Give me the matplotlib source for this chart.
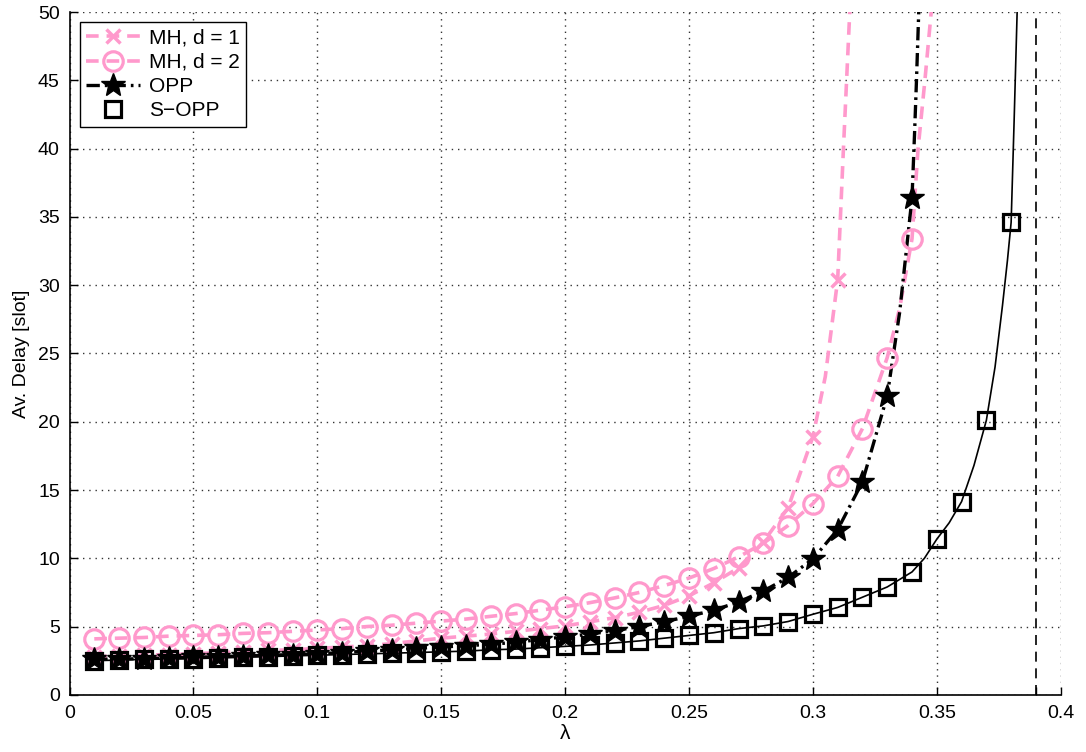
import numpy as np
import matplotlib
matplotlib.use('Agg')
import matplotlib.pyplot as plt

plt.rcParams['font.family'] = ['Liberation Sans', 'DejaVu Sans']

pink = '#FF99CC'

# marker points, lambda = 0.01 ... step 0.01
lam_mh1 = np.round(np.arange(1, 32) * 0.01, 2)
mh1 = [2.8, 2.85, 2.9, 2.95, 3.0, 3.1, 3.15, 3.25, 3.3, 3.4,
       3.5, 3.6, 3.75, 3.95, 4.15, 4.3, 4.45, 4.65, 4.85, 5.05,
       5.35, 5.65, 6.05, 6.55, 7.25, 8.2, 9.3, 11.2, 13.7, 18.9,
       30.4]
lam_mh1_end = [0.305, 0.3123, 0.3136, 0.315]
mh1_end = [23.3, 39.9, 45.0, 50.5]

lam_mh2 = np.round(np.arange(1, 35) * 0.01, 2)
mh2 = [4.1, 4.15, 4.2, 4.3, 4.35, 4.4, 4.5, 4.55, 4.65, 4.75,
       4.85, 5.0, 5.1, 5.25, 5.4, 5.55, 5.75, 5.95, 6.2, 6.45,
       6.75, 7.1, 7.5, 8.0, 8.55, 9.25, 10.1, 11.1, 12.4, 14.0,
       16.0, 19.5, 24.7, 33.4]
lam_mh2_end = [0.335, 0.3424, 0.3452, 0.348]
mh2_end = [28.3, 39.9, 45.0, 50.5]

lam_opp = np.round(np.arange(1, 35) * 0.01, 2)
opp = [2.6, 2.62, 2.65, 2.7, 2.75, 2.8, 2.85, 2.9, 2.95, 3.0,
       3.1, 3.2, 3.3, 3.4, 3.5, 3.6, 3.7, 3.85, 4.05, 4.25,
       4.45, 4.7, 5.0, 5.35, 5.75, 6.2, 6.8, 7.6, 8.6, 9.95,
       12.1, 15.6, 21.9, 36.4]
lam_opp_end = [0.335, 0.341, 0.3418, 0.3428]
opp_end = [28.0, 41.0, 45.0, 50.5]

lam_sopp = np.round(np.arange(1, 39) * 0.01, 2)
sopp = [2.5, 2.55, 2.6, 2.62, 2.65, 2.7, 2.75, 2.8, 2.85, 2.9,
        2.95, 3.0, 3.05, 3.1, 3.15, 3.2, 3.3, 3.35, 3.45, 3.55,
        3.65, 3.8, 3.95, 4.15, 4.35, 4.55, 4.85, 5.05, 5.37, 5.9,
        6.4, 7.15, 7.9, 9.0, 11.4, 14.15, 20.1, 34.6]
lam_sopp_extra = [0.345, 0.355, 0.365, 0.3735, 0.3765, 0.3785, 0.3812, 0.3825]
sopp_extra = [10.0, 12.6, 16.8, 24.0, 28.5, 31.8, 42.0, 50.5]

lam_limit = 0.39

fig = plt.figure(figsize=(10.86, 7.52), dpi=100)
ax = fig.add_axes([0.064, 0.076, 0.9127, 0.908])

def joined(xm, ym, xe, ye):
    x = np.concatenate([xm, xe])
    y = np.concatenate([ym, ye])
    o = np.argsort(x)
    return x[o], y[o]

# lines
x, y = joined(lam_mh1, mh1, lam_mh1_end, mh1_end)
ax.plot(x, y, '--', color=pink, lw=2.6, dashes=(3.5, 2.2))
x, y = joined(lam_mh2, mh2, lam_mh2_end, mh2_end)
ax.plot(x, y, '--', color=pink, lw=2.6, dashes=(3.5, 2.2))
x, y = joined(lam_opp, opp, lam_opp_end, opp_end)
ax.plot(x, y, '-.', color='black', lw=2.4, dashes=(4, 1.5, 0.8, 1.5))
x, y = joined(lam_sopp, sopp, lam_sopp_extra, sopp_extra)
ax.plot(x, y, '-', color='black', lw=1.2)
ax.axvline(lam_limit, color='black', ls='--', lw=1.2, dashes=(6, 4))

# markers
ax.plot(lam_mh1, mh1, 'x', color=pink, ms=10, mew=2.5)
ax.plot(lam_mh2, mh2, 'o', color=pink, mfc='none', ms=14, mew=2.3)
ax.plot(lam_opp, opp, '*', color='black', ms=18, mew=1)
ax.plot(lam_sopp, sopp, 's', color='black', mfc='none', ms=11, mew=2.3)

# legend handles
h1, = ax.plot([], [], '--', color=pink, lw=2.6, marker='x', ms=10, mew=2.5, dashes=(3.5, 2.2))
h2, = ax.plot([], [], '--', color=pink, lw=2.6, marker='o', mfc='none', ms=14, mew=2.3, dashes=(3.5, 2.2))
h3, = ax.plot([], [], '-.', color='black', lw=2.4, marker='*', ms=18, dashes=(4, 1.5, 0.8, 1.5))
h4, = ax.plot([], [], 's', color='black', mfc='none', ms=11, mew=2.3)
leg = ax.legend([h1, h2, h3, h4], ['MH, d = 1', 'MH, d = 2', 'OPP', 'S\u2212OPP'],
                loc='upper left', fontsize=15, fancybox=False, framealpha=1,
                edgecolor='black', borderaxespad=0.5, handlelength=2.6,
                handletextpad=0.4, borderpad=0.3, labelspacing=0.25)
leg.get_frame().set_linewidth(1.0)

ax.set_xlim(0, 0.4)
ax.set_ylim(0, 50)
ax.set_xticks(np.arange(0, 0.41, 0.05))
ax.set_xticklabels(['0', '0.05', '0.1', '0.15', '0.2', '0.25', '0.3', '0.35', '0.4'])
ax.set_yticks(np.arange(0, 51, 5))
ax.set_xticks([lam_limit], minor=True)
ax.tick_params(which='both', direction='in', labelsize=14, length=6, width=1, pad=7)
ax.grid(True, ls=(0, (1, 3.5)), color='#333333', lw=1)
ax.set_axisbelow(True)
for s in ['top', 'right']:
    ax.spines[s].set_visible(False)
for s in ['left', 'bottom']:
    ax.spines[s].set_linewidth(1.2)
ax.set_xlabel('\u03bb', fontsize=15, labelpad=2)
ax.set_ylabel('Av. Delay [slot]', fontsize=14, labelpad=6)

fig.savefig('out.png', dpi=100)
